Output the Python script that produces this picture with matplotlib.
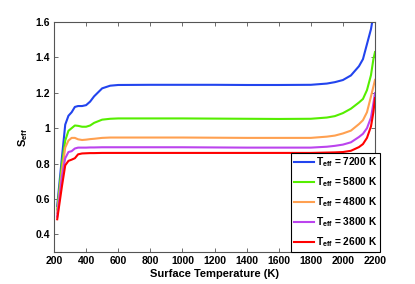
import matplotlib
matplotlib.use("Agg")
import matplotlib.pyplot as plt

plt.rcParams['font.family'] = ['Liberation Sans', 'DejaVu Sans']
plt.rcParams['font.weight'] = 'bold'
plt.rcParams['mathtext.fontset'] = 'custom'
plt.rcParams['mathtext.rm'] = 'Liberation Sans:bold'
plt.rcParams['mathtext.it'] = 'Liberation Sans:bold'
plt.rcParams['mathtext.bf'] = 'Liberation Sans:bold'

temps = [220, 250, 270, 290, 310, 330, 350, 375, 400, 425, 450, 500, 550, 600,
         800, 1000, 1200, 1400, 1600, 1800, 1900, 1950, 2000, 2050, 2100, 2125,
         2150, 2175, 2190, 2200]

s_7200 = [0.56, 0.84, 1.02, 1.07, 1.09, 1.12, 1.125, 1.125, 1.13, 1.15, 1.18, 1.225, 1.24, 1.244,
          1.245, 1.245, 1.245, 1.244, 1.244, 1.245, 1.252, 1.26, 1.272, 1.298, 1.35, 1.39,
          1.475, 1.56, 1.64, 1.70]
s_5800 = [0.54, 0.80, 0.93, 0.985, 1.0, 1.015, 1.013, 1.008, 1.008, 1.015, 1.03, 1.048, 1.053, 1.055,
          1.055, 1.055, 1.054, 1.053, 1.052, 1.053, 1.06, 1.068, 1.085, 1.11, 1.145, 1.165,
          1.215, 1.30, 1.39, 1.43]
s_4800 = [0.52, 0.76, 0.89, 0.93, 0.945, 0.945, 0.937, 0.933, 0.935, 0.938, 0.94, 0.945, 0.947, 0.947,
          0.947, 0.947, 0.946, 0.945, 0.945, 0.945, 0.952, 0.958, 0.97, 0.986, 1.023, 1.045,
          1.09, 1.18, 1.235, 1.273]
s_3800 = [0.50, 0.73, 0.83, 0.865, 0.87, 0.885, 0.89, 0.89, 0.89, 0.891, 0.891, 0.892, 0.892, 0.892,
          0.892, 0.892, 0.891, 0.89, 0.89, 0.89, 0.895, 0.90, 0.907, 0.92, 0.95, 0.968,
          1.0, 1.06, 1.14, 1.198]
s_2600 = [0.485, 0.675, 0.79, 0.815, 0.822, 0.83, 0.852, 0.857, 0.858, 0.859, 0.859, 0.86, 0.86, 0.86,
          0.86, 0.86, 0.86, 0.86, 0.86, 0.86, 0.862, 0.863, 0.865, 0.872, 0.893, 0.91,
          0.945, 1.01, 1.09, 1.17]

series = [s_7200, s_5800, s_4800, s_3800, s_2600]
labels = ['T$_{\\rm eff}$ = 7200 K', 'T$_{\\rm eff}$ = 5800 K', 'T$_{\\rm eff}$ = 4800 K',
          'T$_{\\rm eff}$ = 3800 K', 'T$_{\\rm eff}$ = 2600 K']
colors = ['#2244ee', '#55ee00', '#ffa050', '#bb44ee', '#ff0000']

xticks = [200, 400, 600, 800, 1000, 1200, 1400, 1600, 1800, 2000, 2200]
yticks = [0.4, 0.6, 0.8, 1.0, 1.2, 1.4, 1.6]
yticklabels = ['0.4', '0.6', '0.8', '1', '1.2', '1.4', '1.6']

fig = plt.figure(figsize=(4.15, 2.84), dpi=100)
ax = fig.add_axes([54/415, 32/284, 321/415, 230/284])

for s, c, l in zip(series, colors, labels):
    ax.plot(temps, s, color=c, lw=1.5, label=l)

ax.set_xlim(200, 2200)
ax.set_ylim(0.3, 1.6)
ax.set_xticks(xticks)
ax.set_xticklabels([str(t) for t in xticks])
ax.set_yticks(yticks)
ax.set_yticklabels(yticklabels)
ax.tick_params(direction='in', top=True, right=True, length=3, width=0.6,
               labelsize=7.5, colors='#555555', labelcolor='black', pad=3)
for sp in ax.spines.values():
    sp.set_color('#555555')
    sp.set_linewidth(0.8)

ax.set_xlabel('Surface Temperature (K)', fontsize=8, fontweight='bold', labelpad=2)
ax.set_ylabel('S$_{\\rm eff}$', fontsize=8, fontweight='bold', labelpad=4)

leg = ax.legend(loc='lower right', bbox_to_anchor=(380/415, 32/284),
                bbox_transform=fig.transFigure, borderaxespad=0, fontsize=7.3,
                handlelength=1.9, handletextpad=0.2, labelspacing=0.6,
                borderpad=0.3, fancybox=False, framealpha=1, edgecolor='black')
leg.get_frame().set_linewidth(0.8)

fig.savefig('out.png', dpi=100)
